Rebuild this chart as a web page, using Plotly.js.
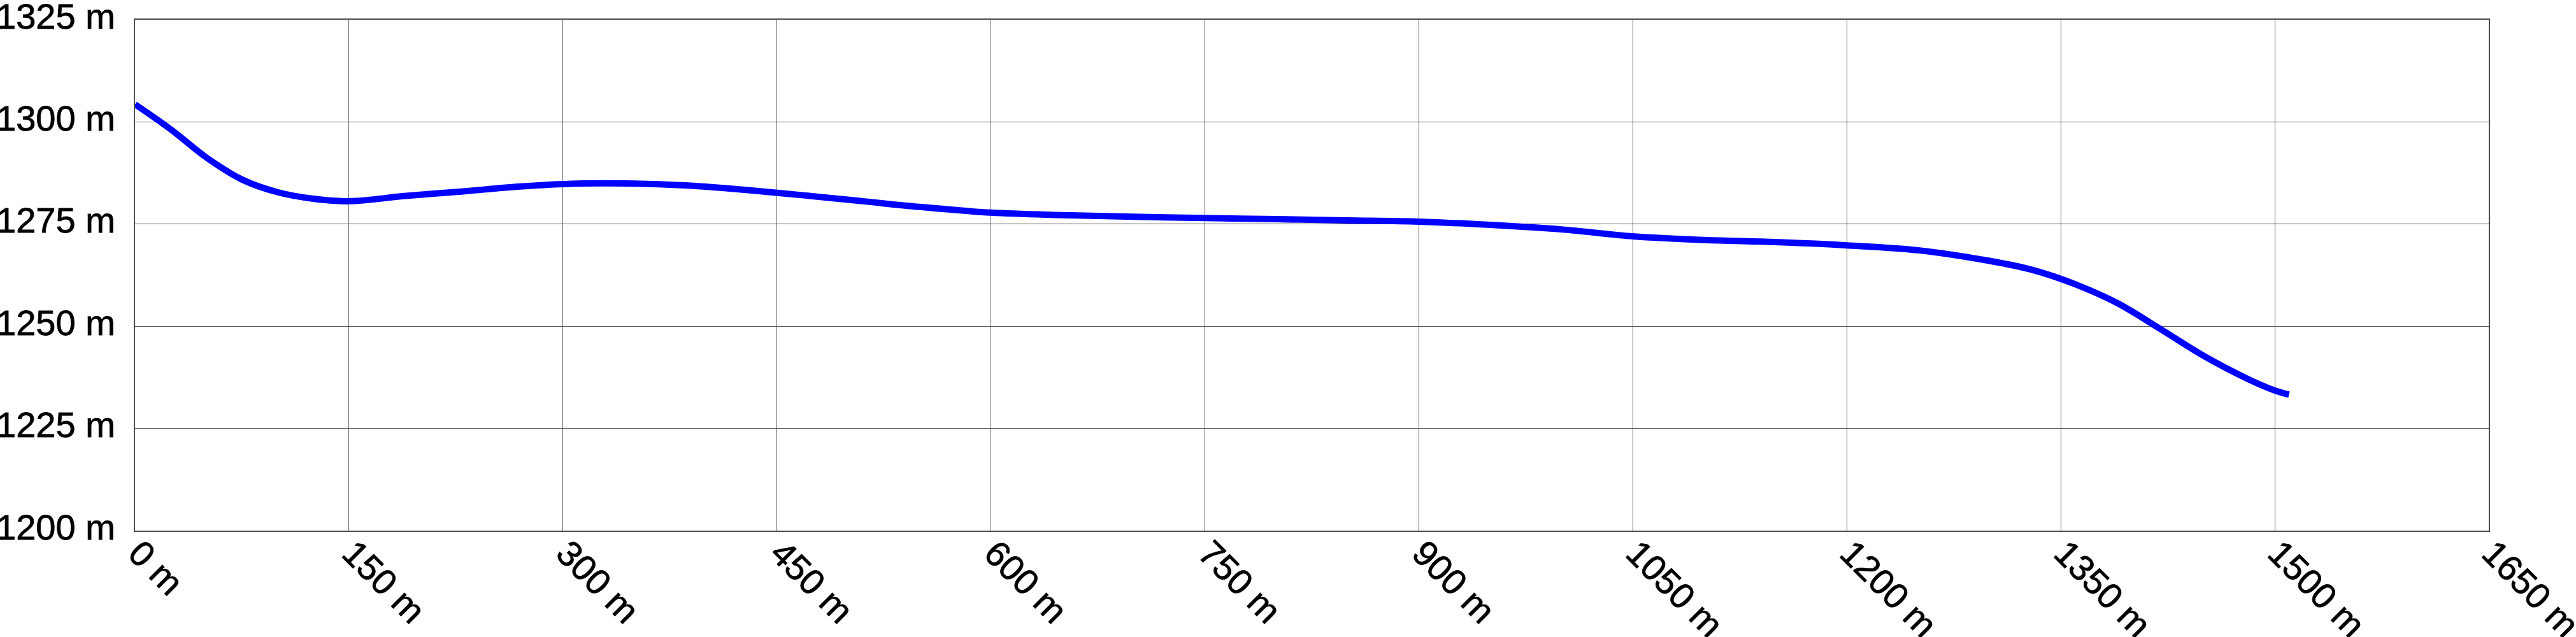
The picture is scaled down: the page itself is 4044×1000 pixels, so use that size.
<!DOCTYPE html>
<html>
<head>
<meta charset="utf-8">
<script src="https://cdn.plot.ly/plotly-3.0.1.min.js"></script>
<style>
  html, body { margin: 0; padding: 0; background: #fff; }
  #chart { width: 4044px; height: 1000px; }
  .xtick text, .ytick text { stroke: #000; stroke-width: 0.8px; }
</style>
</head>
<body>
<div id="chart"></div>
<script>
// Distance along the route (m)
const distance = [0, 25, 50, 75, 100, 125, 150, 190, 230, 270, 310, 350, 390, 430, 470, 510, 550, 600, 650, 700, 750, 800, 850, 900, 950, 1000, 1050, 1100, 1150, 1200, 1250, 1300, 1330, 1360, 1390, 1420, 1450, 1480, 1500, 1510];
// Elevation (m)
const elevation = [1304.3, 1298.2, 1291.3, 1285.9, 1282.8, 1281.2, 1280.6, 1281.9, 1283.0, 1284.2, 1284.9, 1284.9, 1284.4, 1283.3, 1282.0, 1280.6, 1279.2, 1277.8, 1277.2, 1276.8, 1276.5, 1276.2, 1275.9, 1275.6, 1274.8, 1273.7, 1272.0, 1271.1, 1270.6, 1269.8, 1268.6, 1266.0, 1263.8, 1260.3, 1255.6, 1249.3, 1242.8, 1237.3, 1234.3, 1233.3];

// Tick values and labels
const xTickVals = [0, 150, 300, 450, 600, 750, 900, 1050, 1200, 1350, 1500, 1650];
const xTickText = ["0 m", "150 m", "300 m", "450 m", "600 m", "750 m", "900 m", "1050 m", "1200 m", "1350 m", "1500 m", "1650 m"];
const yTickVals = [1200, 1225, 1250, 1275, 1300, 1325];
const yTickText = ["1200 m", "1225 m", "1250 m", "1275 m", "1300 m", "1325 m"];

const trace = {
  x: distance,
  y: elevation,
  type: 'scatter',
  mode: 'lines',
  line: { color: '#0000ff', width: 10, shape: 'spline', smoothing: 1 },
  hoverinfo: 'x+y'
};

const tickFont = { family: 'Liberation Sans, Arial, sans-serif', size: 56, color: '#000' };

const layout = {
  width: 4044,
  height: 1000,
  margin: { l: 212, r: 137, t: 31, b: 167, pad: 0 },
  paper_bgcolor: '#fff',
  plot_bgcolor: '#fff',
  showlegend: false,
  xaxis: {
    range: [0, 1650],
    tickvals: xTickVals,
    ticktext: xTickText,
    tickangle: 45,
    tickfont: tickFont,
    ticklabeloverflow: 'allow',
    showgrid: true,
    gridcolor: '#5a5a5a',
    gridwidth: 1,
    zeroline: false,
    showline: true,
    mirror: true,
    linecolor: '#4d4d4d',
    linewidth: 2,
    ticks: '',
    ticklabelstandoff: -22,
    ticklabelshift: 6
  },
  yaxis: {
    range: [1200, 1325],
    tickvals: yTickVals,
    ticktext: yTickText,
    tickfont: tickFont,
    ticklabeloverflow: 'allow',
    showgrid: true,
    gridcolor: '#5a5a5a',
    gridwidth: 1,
    zeroline: false,
    showline: true,
    mirror: true,
    linecolor: '#4d4d4d',
    linewidth: 2,
    ticks: '',
    ticklabelstandoff: 18,
    ticklabelshift: -6
  }
};

Plotly.newPlot('chart', [trace], layout, { staticPlot: true, displayModeBar: false });
</script>
</body>
</html>
